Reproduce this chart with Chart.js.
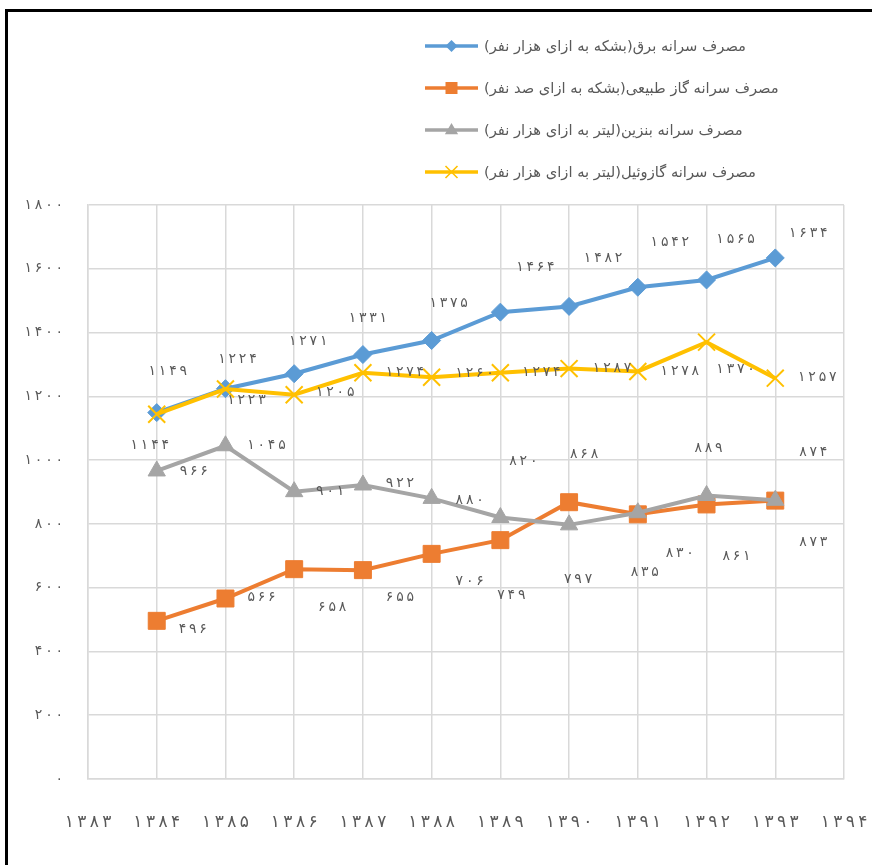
<!DOCTYPE html>
<html>
<head>
<meta charset="utf-8">
<script src="https://cdn.jsdelivr.net/npm/chart.js@4/dist/chart.umd.min.js"></script>
<style>
  html, body { margin: 0; padding: 0; background: #fff; overflow: hidden; }
  #frame { position: absolute; left: 5px; top: 9px; width: 1000px; height: 1000px;
           border-top: 3px solid #000; border-left: 3px solid #000; box-sizing: border-box; }
  #c { position: absolute; left: 0; top: 0; }
</style>
</head>
<body>
<div id="frame"></div>
<canvas id="c" width="872" height="865"></canvas>
<script>
// ---- data ----
const years = ['1383','1384','1385','1386','1387','1388','1389','1390','1391','1392','1393','1394'];
const electricity = [null, 1149, 1224, 1271, 1331, 1375, 1464, 1482, 1542, 1565, 1634, null];
const naturalGas  = [null, 496, 566, 658, 655, 706, 749, 868, 830, 861, 873, null];
const gasoline    = [null, 966, 1045, 901, 922, 880, 820, 797, 835, 889, 874, null];
const diesel      = [null, 1144, 1223, 1205, 1274, 1260, 1274, 1287, 1278, 1370, 1257, null];
const seriesNames = [
  'مصرف سرانه برق(بشکه به ازای هزار نفر)',
  'مصرف سرانه گاز طبیعی(بشکه به ازای صد نفر)',
  'مصرف سرانه بنزین(لیتر به ازای هزار نفر)',
  'مصرف سرانه گازوئیل(لیتر به ازای هزار نفر)'
];
const yMin = 0, yMax = 1800, yStep = 200;

// ---- style ----
const FONT = '"DejaVu Sans", sans-serif';
const TEXT = '#595959';
const colors = ['#5B9BD5', '#ED7D31', '#A5A5A5', '#FFC000'];
// Persian digits, slightly spaced apart (thin spaces) like the original font
const fa = s => String(s).split('').map(d => /\d/.test(d) ? '۰۱۲۳۴۵۶۷۸۹'[d] : d).join('\u2009');

// label offsets (pixels) relative to each point, per series
const labelOffsets = [
  [null,[11,-41],[12,-29],[14,-32],[5,-36],[17,-37],[35,-45],[34,-48],[32,-45],[29,-41],[33,-25],null],
  [null,[36,9],[36,-1],[38,38],[37,27],[38,27],[11,55],[15,-48],[42,39],[30,52],[38,42],null],
  [null,[37,0],[41,0],[36,0],[37,-2],[38,2],[23,-56],[9,55],[7,60],[2,-47],[38,-48],null],
  [null,[-7,31],[21,11],[41,-2],[42,0],[43,-4],[41,0],[43,0],[42,0],[29,27],[42,-1],null]
];

function drawMarker(ctx, style, x, y, r, color) {
  ctx.save();
  ctx.fillStyle = color; ctx.strokeStyle = color;
  ctx.beginPath();
  if (style === 'rectRot') {
    ctx.moveTo(x, y - r); ctx.lineTo(x + r, y); ctx.lineTo(x, y + r); ctx.lineTo(x - r, y); ctx.closePath(); ctx.fill();
  } else if (style === 'rect') {
    ctx.rect(x - r, y - r, 2 * r, 2 * r); ctx.fill();
  } else if (style === 'triangle') {
    ctx.moveTo(x, y - r); ctx.lineTo(x + r * 0.95, y + r * 0.6); ctx.lineTo(x - r * 0.95, y + r * 0.6); ctx.closePath(); ctx.fill();
  } else if (style === 'crossRot') {
    ctx.lineWidth = 1.6;
    ctx.moveTo(x - r, y - r); ctx.lineTo(x + r, y + r);
    ctx.moveTo(x + r, y - r); ctx.lineTo(x - r, y + r); ctx.stroke();
  }
  ctx.restore();
}

const legendPlugin = {
  id: 'customLegend',
  afterDraw(chart) {
    const ctx = chart.ctx;
    const rows = [46, 88, 130, 172];
    const styles = ['rectRot', 'rect', 'triangle', 'crossRot'];
    const sizes = [6, 6, 7, 6];
    chart.data.datasets.forEach((ds, i) => {
      const y = rows[i];
      ctx.save();
      ctx.strokeStyle = colors[i]; ctx.lineWidth = 3.5;
      ctx.beginPath(); ctx.moveTo(425, y); ctx.lineTo(478, y); ctx.stroke();
      ctx.restore();
      drawMarker(ctx, styles[i], 451.5, y, sizes[i], colors[i]);
      ctx.save();
      ctx.font = '14.7px ' + FONT;
      ctx.fillStyle = TEXT;
      ctx.direction = 'rtl';
      ctx.textAlign = 'left';
      ctx.textBaseline = 'middle';
      ctx.fillText(seriesNames[i], 484, y + 1);
      ctx.restore();
    });
  }
};

const dataLabelPlugin = {
  id: 'dataLabels',
  afterDatasetsDraw(chart) {
    const ctx = chart.ctx;
    ctx.save();
    ctx.font = '14px ' + FONT;
    ctx.fillStyle = TEXT;
    ctx.textAlign = 'center';
    ctx.textBaseline = 'middle';
    chart.data.datasets.forEach((ds, i) => {
      const meta = chart.getDatasetMeta(i);
      meta.data.forEach((pt, j) => {
        const v = ds.data[j];
        if (v == null) return;
        const off = labelOffsets[i][j] || [0, -20];
        ctx.fillText(fa(v), pt.x + off[0], pt.y + off[1]);
      });
    });
    ctx.restore();
  }
};

const mkDs = (label, data, i, style, radius, order, extra) => Object.assign({
  label, data,
  borderColor: colors[i], backgroundColor: colors[i],
  borderWidth: 4, tension: 0,
  pointStyle: style, pointRadius: radius, pointHoverRadius: radius,
  pointBackgroundColor: colors[i], pointBorderColor: colors[i], pointBorderWidth: 1,
  order
}, extra || {});

new Chart(document.getElementById('c'), {
  type: 'line',
  data: {
    labels: years,
    datasets: [
      mkDs(seriesNames[0], electricity, 0, 'rectRot', 9, 4),
      mkDs(seriesNames[1], naturalGas, 1, 'rect', 12, 3),
      mkDs(seriesNames[2], gasoline, 2, 'triangle', 10, 2),
      mkDs(seriesNames[3], diesel, 3, 'crossRot', 12, 1, { pointBorderWidth: 2 })
    ]
  },
  options: {
    responsive: false,
    animation: false,
    layout: { padding: { top: 205, left: 0, right: 28, bottom: 0 } },
    plugins: { legend: { display: false }, tooltip: { enabled: false } },
    scales: {
      x: {
        offset: false,
        grid: { color: '#d9d9d9', lineWidth: 1.5, drawTicks: false },
        border: { color: '#d9d9d9', width: 1.5 },
        ticks: { color: TEXT, font: { family: FONT, size: 17 }, padding: 33, maxRotation: 0, autoSkip: false,
                 callback: function(v) { return fa(this.getLabelForValue(v)); } },
        afterFit(s) { s.height = 86; s.paddingLeft = 0; s.paddingRight = 0; }
      },
      y: {
        min: yMin, max: yMax,
        grid: { color: '#d9d9d9', lineWidth: 1.5, drawTicks: false },
        border: { color: '#d9d9d9', width: 1.5 },
        ticks: { stepSize: yStep, color: TEXT, font: { family: FONT, size: 14 }, padding: 25,
                 callback: v => fa(v) },
        afterFit(s) { s.width = 88; }
      }
    }
  },
  plugins: [legendPlugin, dataLabelPlugin]
});
</script>
</body>
</html>
